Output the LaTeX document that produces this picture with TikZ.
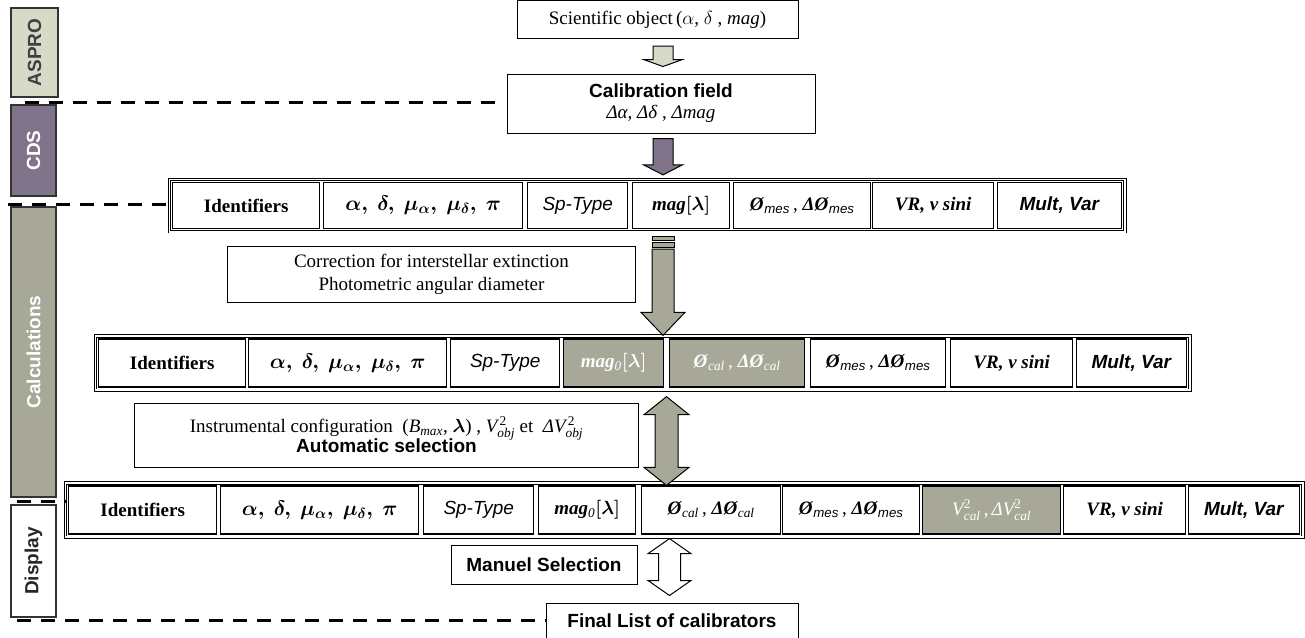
\RequirePackage{fix-cm}
\documentclass[tikz,border=0pt]{standalone}
\usepackage{amsmath}
\usepackage{fontspec}
\setmainfont{Liberation Serif}
\setsansfont{Liberation Sans}
\usetikzlibrary{calc,fit}

\definecolor{asprofill}{HTML}{D6DAC6}
\definecolor{cdsfill}{HTML}{7F7489}
\definecolor{calcfill}{HTML}{A8A899}

\newcommand{\basesize}{\fontsize{19}{23}\selectfont}
% cell contents, used in the three tables
\newcommand{\cellIdent}{\textbf{Identifiers}}
\newcommand{\cellCoord}{\fontsize{21}{23}\selectfont$\boldsymbol{\alpha,\ \delta,\ \mu_{\alpha},\ \mu_{\delta},\ \pi}$}
\newcommand{\cellSp}{\textsf{\itshape Sp-Type}}
\newcommand{\cellMag}{\textbf{\textit{mag}}$\boldsymbol{[\lambda]}$}
\newcommand{\cellMagO}{\textbf{\textit{mag}}$_{\mathit{0}}\boldsymbol{[\lambda]}$}
\newcommand{\cellOmes}{\textbf{\textit{Ø}}\textsubscript{\textsf{\itshape mes}}\,,\ \textbf{\textit{ΔØ}}\textsubscript{\textsf{\itshape mes}}}
\newcommand{\cellOcal}{\textbf{\textit{Ø}}\textsubscript{\textit{cal}}\,,\ \textbf{\textit{ΔØ}}\textsubscript{\textit{cal}}}
\newcommand{\cellVcal}{$\textit{V}_{\textit{cal}}^{\textrm{2}}$\,,\,$\textit{Δ}\textit{V}_{\textit{cal}}^{\textrm{2}}$}
\newcommand{\cellVR}{\textbf{\textit{VR, v sini}}}
\newcommand{\cellMult}{\textsf{\bfseries\itshape Mult, Var}}

% block arrows between two points: style, top, tip, shaft half width, head half width, head length
\newcommand{\downblock}[6]{%
  \path[#1] let \p1=#2, \p2=#3 in
    (\x1-#4pt,\y1) -- (\x1+#4pt,\y1) -- (\x1+#4pt,\y2+#6pt)
    -- (\x1+#5pt,\y2+#6pt) -- (\x1,\y2) -- (\x1-#5pt,\y2+#6pt)
    -- (\x1-#4pt,\y2+#6pt) -- cycle;}
\newcommand{\dualblock}[6]{%
  \path[#1] let \p1=#2, \p2=#3 in
    (\x1,\y1) -- (\x1+#5pt,\y1-#6pt) -- (\x1+#4pt,\y1-#6pt) -- (\x1+#4pt,\y2+#6pt)
    -- (\x1+#5pt,\y2+#6pt) -- (\x1,\y2) -- (\x1-#5pt,\y2+#6pt) -- (\x1-#4pt,\y2+#6pt)
    -- (\x1-#4pt,\y1-#6pt) -- (\x1-#5pt,\y1-#6pt) -- cycle;}

\tikzset{
  box/.style={draw, line width=1pt, inner sep=0pt, align=center},
  cell/.style={draw, line width=1.4pt, inner sep=1pt, anchor=west},
  graycell/.style={cell, fill=calcfill, text=white},
  frame/.style={draw, double, double distance=1.6pt, line width=0.9pt, inner sep=2.5pt},
  sidebar/.style={draw=black!80, line width=1.2pt, rotate=90, inner sep=0pt,
    font=\basesize\sffamily\bfseries},
  sepline/.style={line width=3pt, dash pattern=on 14pt off 10pt},
  blockarrow/.style={draw, line width=1pt, line join=miter}
}

\begin{document}
\begin{tikzpicture}[x=1pt, y=-1pt, font=\basesize]
  \fill[white] (0,0) rectangle (1305,637);
  \useasboundingbox (0,0) rectangle (1305,637);

  % left column
  \node[sidebar, fill=asprofill, text=black!75, minimum width=89, minimum height=47] (aspro) at (34.5,52.5) {ASPRO};
  \node[sidebar, fill=cdsfill, text=white, minimum width=91, minimum height=45] (cds) at (33.5,150.5) {CDS};
  \node[sidebar, fill=calcfill, text=white, minimum width=290, minimum height=45] (calc) at (33.5,352) {Calculations};
  \node[sidebar, fill=white, text=black!85, minimum width=112, minimum height=45] (disp) at (33.5,561) {Display};

  % boxes
  \node[box, minimum width=281, minimum height=38] (sci) at (657.5,19.5) {Scientific object\,($\alpha$, $\delta$ , \textit{mag})};
  \node[box, minimum width=308, minimum height=59] (cal) at (661,103.5)
    {\textsf{\bfseries Calibration field}\\[-2pt] \textit{Δα}, \textit{Δδ} , \textit{Δmag}};
  \node[box, minimum width=408, minimum height=56] (corr) at (431.5,274.5)
    {Correction for interstellar extinction\\ Photometric angular diameter};
  \node[box, minimum width=504, minimum height=64] (instr) at (386.5,435)
    {Instrumental configuration \ (\textit{B}\textsubscript{\textit{max}}, $\boldsymbol{\lambda}$) , $\textit{V}_{\textit{obj}}^{\,\textrm{2}}$ et \ \textit{Δ}$\textit{V}_{\textit{obj}}^{\,\textrm{2}}$\\[-3pt]
     \textsf{\bfseries Automatic selection}};
  \node[box, minimum width=186, minimum height=39] (manuel) at (544,564.5) {\textsf{\bfseries Manuel Selection}};
  \node[box, minimum width=252, minimum height=36] (fin) at (672,621) {\textsf{\bfseries Final List of calibrators}};

  % table 1
  \begin{scope}[every node/.append style={minimum height=46}]
    \node[cell, minimum width=147] (a1) at (172,205.5) {\cellIdent};
    \node[cell, minimum width=199] (a2) at (323,205.5) {\cellCoord};
    \node[cell, minimum width=100] (a3) at (527,205.5) {\cellSp};
    \node[cell, minimum width=97]  (a4) at (632,205.5) {\cellMag};
    \node[cell, minimum width=137] (a5) at (733,205.5) {\cellOmes};
    \node[cell, minimum width=121] (a6) at (872,205.5) {\cellVR};
    \node[cell, minimum width=124] (a7) at (997,205.5) {\cellMult};
  \end{scope}
  \node[frame, fit=(a1)(a7)] (t1) {};

  % table 2
  \begin{scope}[every node/.append style={minimum height=48}]
    \node[cell, minimum width=147]     (b1) at (98,363) {\cellIdent};
    \node[cell, minimum width=198]     (b2) at (248,363) {\cellCoord};
    \node[cell, minimum width=109]     (b3) at (450,363) {\cellSp};
    \node[graycell, minimum width=100] (b4) at (563,363) {\cellMagO};
    \node[graycell, minimum width=135] (b5) at (669,363) {\cellOcal};
    \node[cell, minimum width=135]     (b6) at (810,363) {\cellOmes};
    \node[cell, minimum width=122]     (b7) at (950,363) {\cellVR};
    \node[cell, minimum width=110]     (b8) at (1076,363) {\cellMult};
  \end{scope}
  \node[frame, fit=(b1)(b8)] (t2) {};

  % table 3
  \begin{scope}[every node/.append style={minimum height=48}]
    \node[cell, minimum width=148]     (c1) at (68,510) {\cellIdent};
    \node[cell, minimum width=198]     (c2) at (220,510) {\cellCoord};
    \node[cell, minimum width=110]     (c3) at (423,510) {\cellSp};
    \node[cell, minimum width=97]      (c4) at (538,510) {\cellMagO};
    \node[cell, minimum width=139]     (c5) at (641,510) {\cellOcal};
    \node[cell, minimum width=137]     (c6) at (782,510) {\cellOmes};
    \node[graycell, minimum width=138] (c7) at (922,510) {\cellVcal};
    \node[cell, minimum width=122]     (c8) at (1063,510) {\cellVR};
    \node[cell, minimum width=111]     (c9) at (1188,510) {\cellMult};
  \end{scope}
  \node[frame, fit=(c1)(c9)] (t3) {};

  % arrows
  \coordinate (ax) at (663,0);
  \downblock{blockarrow, fill=asprofill}{($(ax |- sci.south)+(0,7)$)}{($(ax |- cal.north)+(0,-7)$)}{10}{19.5}{7}
  \downblock{blockarrow, fill=cdsfill}{($(ax |- cal.south)+(0,5)$)}{($(ax |- t1.north)+(0,-4)$)}{10}{19.5}{10}
  \draw[blockarrow, fill=calcfill] ($(ax |- t1.south)+(-11,4)$) rectangle ($(ax |- t1.south)+(11,8)$);
  \draw[blockarrow, fill=calcfill] ($(ax |- t1.south)+(-11,10)$) rectangle ($(ax |- t1.south)+(11,15)$);
  \downblock{blockarrow, fill=calcfill}{($(ax |- t1.south)+(0,17)$)}{(ax |- t2.north)}{11}{22}{23}
  \dualblock{blockarrow, fill=calcfill}{($(ax |- t2.south)+(3.5,6)$)}{($(ax |- t3.north)+(3.5,3)$)}{11.5}{22.5}{18}
  \dualblock{blockarrow, fill=white}{($(ax |- t3.south)+(6.5,1)$)}{($(ax |- fin.north)+(6.5,-7)$)}{11}{21.5}{15}

  % dashed separators
  \coordinate (s1) at (25,102);
  \coordinate (s2) at (8,204);
  \coordinate (s3) at (17,501);
  \coordinate (s4) at (17,620);
  \draw[sepline, shorten >=7pt] (s1) -- (s1 -| cal.west);
  \draw[sepline] (s2) -- (s2 -| t1.west);
  \draw[sepline] (s3) -- (s3 -| t3.west);
  \draw[sepline] (s4) -- (s4 -| fin.west);
\end{tikzpicture}
\end{document}
